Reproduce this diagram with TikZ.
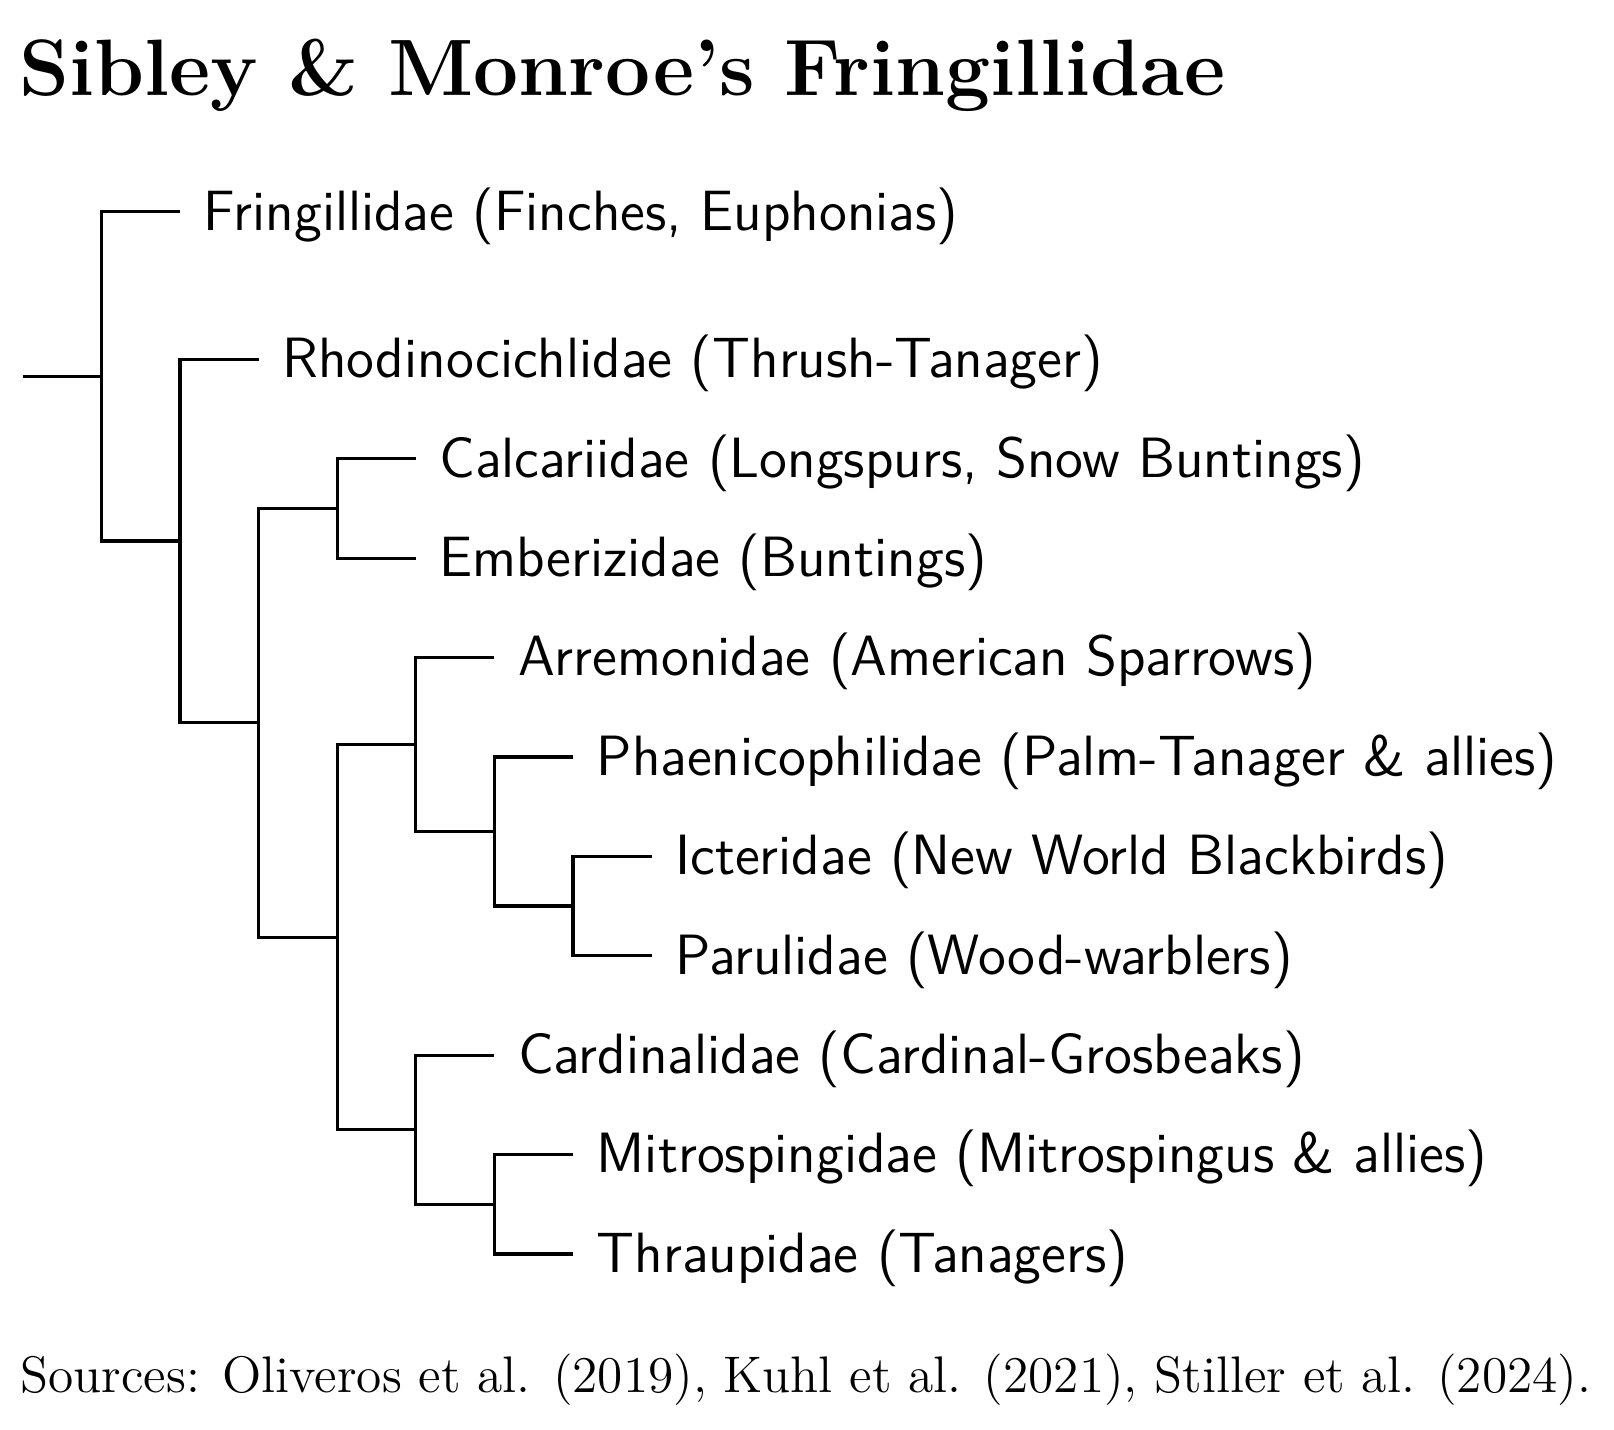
\documentclass[tikz,border=0pt]{standalone}
\begin{document}
\begin{tikzpicture}[x=0.25pt,y=-0.25pt]
\tikzset{
  branch/.style={line width=0.8pt, line join=miter},
  taxon/.style={anchor=base west, inner sep=0pt, xshift=5.75pt, yshift=-4.6pt,
    font=\sffamily\fontsize{14.2}{17}\selectfont},
}
\useasboundingbox (0,0) rectangle (1614,1429);
% title and footer
\node[anchor=base west, inner sep=0pt, font=\bfseries\fontsize{20}{24}\selectfont] (title) at (19,95) {Sibley \& Monroe’s Fringillidae};
\node[anchor=base west, inner sep=0pt, font=\fontsize{12.86}{15}\selectfont] (src) at (20,1392) {Sources: Oliveros et al. (2019), Kuhl et al. (2021), Stiller et al. (2024).};
% internal nodes
\coordinate (root) at (22.7,376.35);
\coordinate (n0) at (101.3,376.35);
\coordinate (n1) at (179.9,541);
\coordinate (n2) at (258.5,722.75);
\coordinate (nCE) at (337.1,508.4);
\coordinate (nBig) at (337.1,937.1);
\coordinate (nA) at (415.7,744.5);
\coordinate (nC) at (415.7,1129.65);
\coordinate (nPIP) at (494.3,831.45);
\coordinate (nMT) at (494.3,1204.2);
\coordinate (nIP) at (572.9,906);
% tip ends
\coordinate (tFr) at (179.9,211.7);
\coordinate (tRh) at (258.5,359.3);
\coordinate (tCa) at (415.7,458.7);
\coordinate (tEm) at (415.7,558.1);
\coordinate (tAr) at (494.3,657.5);
\coordinate (tPh) at (572.9,756.9);
\coordinate (tIc) at (651.5,856.3);
\coordinate (tPa) at (651.5,955.7);
\coordinate (tCd) at (494.3,1055.1);
\coordinate (tMi) at (572.9,1154.5);
\coordinate (tTh) at (572.9,1253.9);
% branches
\draw[branch] (root) -- (n0);
\draw[branch] (n0) |- (tFr);
\draw[branch] (n0) |- (n1);
\draw[branch] (n1) |- (tRh);
\draw[branch] (n1) |- (n2);
\draw[branch] (n2) |- (nCE);
\draw[branch] (n2) |- (nBig);
\draw[branch] (nCE) |- (tCa);
\draw[branch] (nCE) |- (tEm);
\draw[branch] (nBig) |- (nA);
\draw[branch] (nBig) |- (nC);
\draw[branch] (nA) |- (tAr);
\draw[branch] (nA) |- (nPIP);
\draw[branch] (nPIP) |- (tPh);
\draw[branch] (nPIP) |- (nIP);
\draw[branch] (nIP) |- (tIc);
\draw[branch] (nIP) |- (tPa);
\draw[branch] (nC) |- (tCd);
\draw[branch] (nC) |- (nMT);
\draw[branch] (nMT) |- (tMi);
\draw[branch] (nMT) |- (tTh);
% labels
\node[taxon] (lFr) at (tFr) {Fringillidae (Finches, Euphonias)};
\node[taxon] (lRh) at (tRh) {Rhodinocichlidae (Thrush-Tanager)};
\node[taxon] (lCa) at (tCa) {Calcariidae (Longspurs, Snow Buntings)};
\node[taxon] (lEm) at (tEm) {Emberizidae (Buntings)};
\node[taxon] (lAr) at (tAr) {Arremonidae (American Sparrows)};
\node[taxon] (lPh) at (tPh) {Phaenicophilidae (Palm-Tanager \& allies)};
\node[taxon] (lIc) at (tIc) {Icteridae (New World Blackbirds)};
\node[taxon] (lPa) at (tPa) {Parulidae (Wood-warblers)};
\node[taxon] (lCd) at (tCd) {Cardinalidae (Cardinal-Grosbeaks)};
\node[taxon] (lMi) at (tMi) {Mitrospingidae (Mitrospingus \& allies)};
\node[taxon] (lTh) at (tTh) {Thraupidae (Tanagers)};
\end{tikzpicture}
\end{document}
